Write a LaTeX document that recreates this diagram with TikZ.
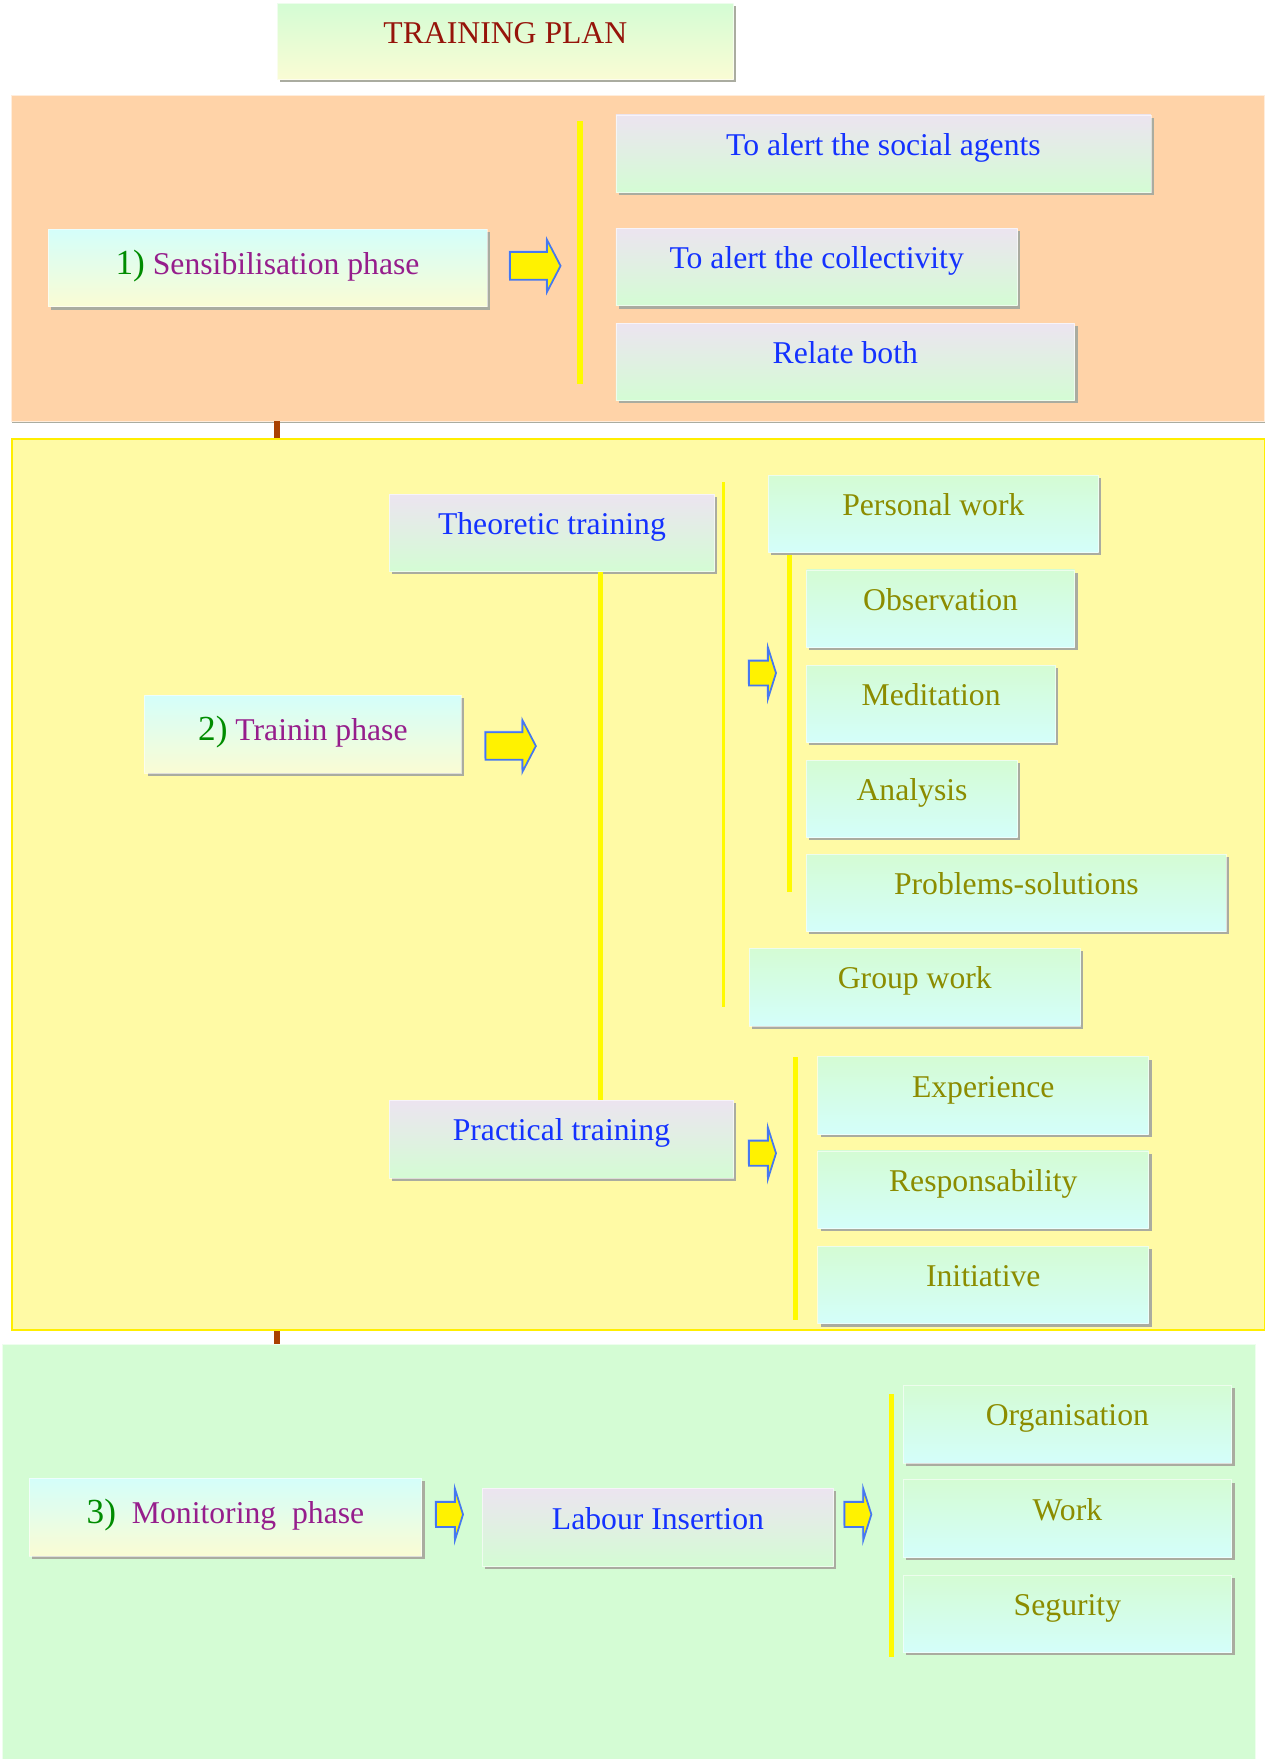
\documentclass[tikz,border=0pt]{standalone}
\usepackage{fontspec}
\setmainfont{Liberation Serif}
\usetikzlibrary{shadows,shapes.arrows}

\begin{document}
\begin{tikzpicture}[x=0.0224cm, y=-0.0224cm]
  % Colors
  \definecolor{sensicol}{RGB}{255,211,168}
  \definecolor{traincol}{RGB}{255,250,165}
  \definecolor{monicol}{RGB}{212,252,212}
  \definecolor{mintcol}{RGB}{212,252,212}
  \definecolor{creamcol}{RGB}{250,252,212}
  \definecolor{aquacol}{RGB}{212,254,250}
  \definecolor{lilaccol}{RGB}{236,228,240}
  \definecolor{titlecol}{RGB}{150,20,10}
  \definecolor{numcol}{RGB}{0,140,0}
  \definecolor{phasecol}{RGB}{150,30,140}
  \definecolor{bluecol}{RGB}{20,50,255}
  \definecolor{olivecol}{RGB}{140,140,0}
  \definecolor{barcol}{RGB}{255,250,0}
  \definecolor{linkcol}{RGB}{170,65,0}
  \definecolor{shadecol}{RGB}{170,172,160}
  \definecolor{arrowcol}{RGB}{70,120,240}
  %
  \def\px{0.0224cm}
  \def\bh{69}
  %
  \tikzset{
    panel/.style={inner sep=0pt, anchor=north west},
    cardbox/.style={minimum height=\bh*\px, inner sep=0pt, text height=12pt, text depth=10pt,
                    font=\fontsize{18}{21}\selectfont, draw=white, draw opacity=0.6, thin,
                    drop shadow={shadow xshift=1.6pt, shadow yshift=-1.6pt, fill=shadecol, opacity=1}},
    phasebox/.style={cardbox, top color=aquacol, bottom color=creamcol, text=phasecol, text depth=5pt},
    stagebox/.style={cardbox, top color=lilaccol, bottom color=mintcol, text=bluecol},
    taskbox/.style={cardbox, top color=mintcol, bottom color=aquacol, text=olivecol},
    ybar/.style={barcol, line width=3pt},
    link/.style={linkcol, line width=3.2pt},
    bigarrow/.style={single arrow, draw=arrowcol, fill=yellow, line width=1pt,
                     inner xsep=0pt, inner ysep=11.5*\px, minimum height=45*\px,
                     single arrow head extend=10.8*\px, single arrow tip angle=125,
                     drop shadow={shadow xshift=-0.8pt, shadow yshift=0.8pt, fill=arrowcol!45, opacity=1}},
    smallarrow/.style={bigarrow, inner ysep=10.3*\px, minimum height=24*\px,
                       single arrow head extend=11.7*\px, single arrow tip angle=145},
  }
  \useasboundingbox (0,0) rectangle (1127,1568);
  %
  % === PANELS ===
  \node[panel, fill=sensicol, draw=white!60!sensicol, minimum width=1117*\px, minimum height=290*\px,
        drop shadow={shadow xshift=0pt, shadow yshift=-1pt, fill=shadecol, opacity=1}] (sensipanel) at (10,85) {};
  \node[panel, fill=traincol, draw=barcol!90!orange, line width=1.2pt,
        minimum width=1117*\px, minimum height=795*\px] (trainpanel) at (10,390) {};
  \node[panel, fill=monicol, draw=white!60!monicol, minimum width=1117*\px, minimum height=370*\px] (monipanel) at (2,1198) {};
  %
  % === LINKS BETWEEN PANELS ===
  \coordinate (linkx) at (247,0);
  \draw[link] (sensipanel.south -| linkx) -- (trainpanel.north -| linkx);
  \draw[link] (trainpanel.south -| linkx) -- (monipanel.north -| linkx);
  %
  % === TITLE ===
  \node[cardbox, top color=mintcol, bottom color=creamcol, text=titlecol,
        minimum width=407*\px, minimum height=68*\px] (title) at (450.5,37) {TRAINING PLAN};
  %
  % === 1) SENSIBILISATION ===
  \node[phasebox, minimum width=391*\px] (sensi) at (238.5,239)
    {{\color{numcol}\fontsize{20}{24}\selectfont 1)} Sensibilisation phase};
  \node[bigarrow] (sensiarrow) at (474,237) {};
  \draw[ybar] (517,108) -- (517,342);
  \node[stagebox, minimum width=477*\px] (agents) at (787.5,137) {To alert the social agents};
  \node[stagebox, minimum width=358*\px] (collect) at (728,238) {To alert the collectivity};
  \node[stagebox, minimum width=409*\px] (relate) at (753.5,322.5) {Relate both};
  %
  % === 2) TRAINING ===
  \node[phasebox, minimum width=282*\px] (train) at (270,654.5)
    {{\color{numcol}\fontsize{20}{24}\selectfont 2)} Trainin phase};
  \node[bigarrow] (trainarrow) at (452,665) {};
  \node[stagebox, minimum width=290*\px] (theo) at (492,475) {Theoretic training};
  \node[stagebox, minimum width=307*\px] (prac) at (500.5,1015.5) {Practical training};
  \coordinate (theobar) at (535,0);
  \draw[ybar] (theo.south -| theobar) -- (prac.north -| theobar);
  \draw[ybar, line width=2pt] (645,430) -- (645,898);
  \draw[ybar] (704,495) -- (704,795);
  \draw[ybar] (709,942) -- (709,1177);
  \node[smallarrow] (theoarrow) at (678,600) {};
  \node[smallarrow] (pracarrow) at (678,1028) {};
  %
  % === 3) MONITORING ===
  \node[phasebox, minimum width=350*\px] (moni) at (201,1352.5)
    {{\color{numcol}\fontsize{20}{24}\selectfont 3)}\enspace Monitoring\ \ phase};
  \node[smallarrow] (moniarrow) at (399,1350) {};
  \node[stagebox, minimum width=313*\px] (labour) at (586.5,1361.5) {Labour Insertion};
  \node[smallarrow] (labourarrow) at (763,1350) {};
  \draw[ybar] (795,1243) -- (795,1477);
  %
  % === TASK BOXES ===
  \foreach \nm/\cx/\cy/\w/\txt in {
    pwork/832/458/294/{Personal work},
    observ/838.5/542.5/239/{Observation},
    medit/830/627.5/222/{Meditation},
    analys/813/712/188/{Analysis},
    probsol/906/796/374/{Problems-solutions},
    gwork/815.5/880/295/{Group work},
    exper/876.5/976.5/295/{Experience},
    respon/876.5/1060.5/295/{Responsability},
    initia/876.5/1145.5/295/{Initiative},
    organi/951.5/1269.5/293/{Organisation},
    work/951.5/1353.5/293/{Work},
    segur/951.5/1438.5/293/{Segurity}%
  } {
    \node[taskbox, minimum width=\w*\px] (\nm) at (\cx,\cy) {\txt};
  }
  %
\end{tikzpicture}
\end{document}
